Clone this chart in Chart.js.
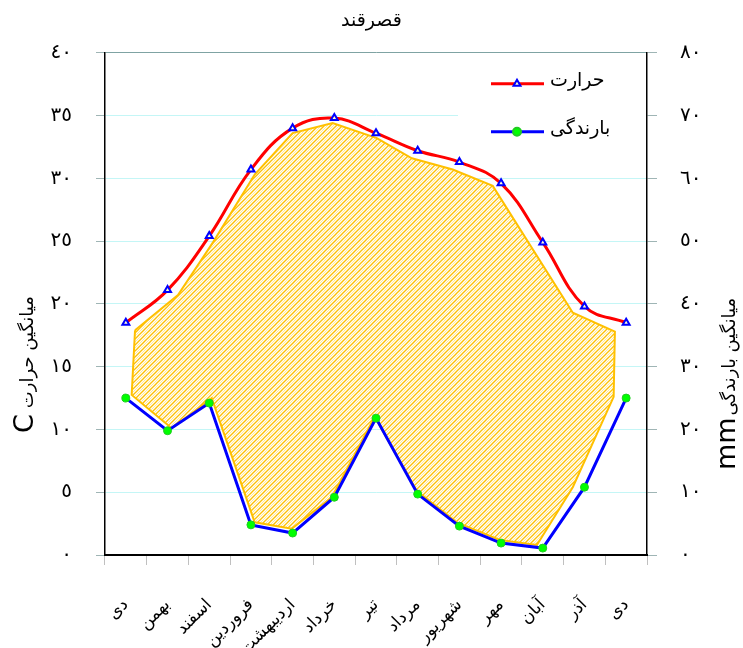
<!DOCTYPE html>
<html>
<head>
<meta charset="utf-8">
<script src="https://cdn.jsdelivr.net/npm/chart.js@4.4.1/dist/chart.umd.min.js"></script>
<style>
  html, body { margin: 0; padding: 0; background: #fff; }
  #wrap { width: 743px; height: 648px; }
</style>
</head>
<body>
<div id="wrap"><canvas id="chart" width="743" height="648"></canvas></div>
<script>
var months = ["دی", "بهمن", "اسفند", "فروردین", "اردیبهشت", "خرداد", "تیر", "مرداد", "شهریور", "مهر", "آبان", "آذر", "دی"];
var temperature = [18.5, 21.1, 25.4, 30.7, 34.0, 34.8, 33.6, 32.2, 31.3, 29.6, 24.9, 19.8, 18.5];
var rainfall = [25.0, 19.8, 24.2, 4.8, 3.5, 9.2, 21.8, 9.7, 4.6, 1.9, 1.1, 10.8, 25.0];

// hatched band, in month-index / degree units
var bandTopX = [0.22, 1.25, 2.09, 3.09, 4.00, 4.96, 6.02, 6.86, 7.84, 8.80, 10.72, 11.73];
var bandTopY = [17.9, 20.7, 24.9, 30.3, 33.6, 34.4, 33.2, 31.6, 30.7, 29.4, 19.3, 17.8];
var bandBotX = [0.14, 1.10, 2.06, 3.09, 3.98, 4.94, 5.97, 6.98, 7.96, 8.97, 9.86, 10.72, 11.70];
var bandBotY = [12.75, 10.1, 12.5, 2.6, 2.1, 4.6, 11.0, 5.1, 2.55, 1.2, 0.8, 5.4, 12.6];

var faDigits = ["٠", "١", "٢", "٣", "٤", "٥", "٦", "٧", "٨", "٩"];
var leftTitle = "میانگین حرارت";
var rightTitle = "میانگین بارندگی";

function toFa(v) {
    return String(v).split("").map(function (d) { return faDigits[+d] || d; }).join("");
}

var band = [];
bandTopX.forEach(function (x, i) { band.push({ x: x, y: bandTopY[i] }); });
for (var i = bandBotX.length - 1; i >= 0; i--) band.push({ x: bandBotX[i], y: bandBotY[i] });
band.push(band[0]);

Chart.defaults.font.family = "'DejaVu Sans', sans-serif";
Chart.defaults.color = "#000";

var pattern = null;
function getPattern(ctx) {
    if (pattern) return pattern;
    var c = document.createElement("canvas");
    c.width = 6; c.height = 6;
    var g = c.getContext("2d");
    g.fillStyle = "#fffef8";
    g.fillRect(0, 0, 6, 6);
    g.strokeStyle = "#ffe7a0";
    g.lineWidth = 1;
    g.beginPath();
    g.moveTo(-1, 4); g.lineTo(4, -1);
    g.moveTo(2, 7); g.lineTo(7, 2);
    g.stroke();
    g.strokeStyle = "#ffc000";
    g.lineWidth = 1.3;
    g.beginPath();
    g.moveTo(-1, 7); g.lineTo(7, -1);
    g.moveTo(-1, 1); g.lineTo(1, -1);
    g.moveTo(5, 7); g.lineTo(7, 5);
    g.stroke();
    pattern = ctx.createPattern(c, "repeat");
    return pattern;
}

var extras = {
    id: "extras",
    beforeDatasetsDraw: function (chart) {
        var ctx = chart.ctx, a = chart.chartArea;
        ctx.save();
        // legend background
        ctx.fillStyle = "#fff";
        ctx.fillRect(a.right - 189, a.top + 2, 188, 104);
        // hatched band
        var pts = chart.getDatasetMeta(2).data;
        ctx.beginPath();
        pts.forEach(function (p, i) {
            if (i === 0) ctx.moveTo(p.x, p.y); else ctx.lineTo(p.x, p.y);
        });
        ctx.closePath();
        ctx.fillStyle = getPattern(ctx);
        ctx.fill();
        ctx.restore();
    },
    afterDraw: function (chart) {
        var ctx = chart.ctx, a = chart.chartArea;
        var ds = chart.data.datasets;
        ctx.save();
        var items = [
            { y: a.top + 31, line: "#ff0000", style: "triangle", fill: "#ffffcc", stroke: "#0000ff", text: ds[0].label },
            { y: a.top + 79, line: "#0000ff", style: "circle", fill: "#00ff00", stroke: "#22cc22", text: ds[1].label }
        ];
        var x0 = a.right - 156;
        items.forEach(function (it) {
            ctx.strokeStyle = it.line;
            ctx.lineWidth = 3;
            ctx.beginPath();
            ctx.moveTo(x0, it.y);
            ctx.lineTo(x0 + 53, it.y);
            ctx.stroke();
            ctx.fillStyle = it.fill;
            ctx.strokeStyle = it.stroke;
            ctx.lineWidth = 2;
            Chart.helpers.drawPoint(ctx, { pointStyle: it.style, radius: 4, borderWidth: 2, rotation: 0 }, x0 + 26, it.y);
            ctx.fillStyle = "#000";
            ctx.font = "19px 'DejaVu Sans'";
            ctx.textAlign = "left";
            ctx.textBaseline = "middle";
            ctx.fillText(it.text, x0 + 59, it.y - 3);
        });

        // axis titles, both read bottom to top
        ctx.fillStyle = "#000";
        ctx.textAlign = "left";
        ctx.textBaseline = "alphabetic";

        ctx.save();
        ctx.translate(33, 433);
        ctx.rotate(-Math.PI / 2);
        ctx.font = "27px 'DejaVu Sans'";
        ctx.fillText("C", 0, 0);
        var w = ctx.measureText("C").width;
        ctx.font = "18px 'DejaVu Sans'";
        ctx.fillText(leftTitle, w + 6, 0);
        ctx.restore();

        ctx.save();
        ctx.translate(735, 470);
        ctx.rotate(-Math.PI / 2);
        ctx.font = "27px 'DejaVu Sans'";
        ctx.fillText("mm", 0, 0);
        w = ctx.measureText("mm").width;
        ctx.font = "18px 'DejaVu Sans'";
        ctx.fillText(rightTitle, w + 2, 0);
        ctx.restore();

        ctx.restore();
    }
};

new Chart(document.getElementById("chart"), {
    type: "line",
    data: {
        labels: months,
        datasets: [
            {
                label: "حرارت",
                data: temperature,
                xAxisID: "x",
                yAxisID: "y",
                borderColor: "#ff0000",
                borderWidth: 3,
                tension: 0.4,
                pointStyle: "triangle",
                pointRadius: 4,
                pointBorderWidth: 2,
                pointBorderColor: "#0000ff",
                pointBackgroundColor: "#ffffcc",
                order: 1
            },
            {
                label: "بارندگی",
                data: rainfall,
                xAxisID: "x",
                yAxisID: "y2",
                borderColor: "#0000ff",
                borderWidth: 3,
                tension: 0,
                pointStyle: "circle",
                pointRadius: 4,
                pointBorderWidth: 1,
                pointBorderColor: "#22cc22",
                pointBackgroundColor: "#00ff00",
                order: 2
            },
            {
                label: "band",
                data: band,
                xAxisID: "xf",
                yAxisID: "y",
                borderColor: "#ffc000",
                borderWidth: 2,
                pointRadius: 0,
                tension: 0,
                fill: false,
                order: 3
            }
        ]
    },
    options: {
        responsive: false,
        animation: false,
        events: [],
        layout: { padding: 0 },
        plugins: {
            legend: { display: false },
            tooltip: { enabled: false },
            title: {
                display: true,
                text: "قصرقند",
                font: { size: 19, weight: "normal" },
                color: "#000",
                padding: { top: 10, bottom: 20 }
            }
        },
        scales: {
            x: {
                type: "category",
                offset: true,
                grid: { offset: true, drawOnChartArea: false, tickLength: 10, color: "#c0c0c0" },
                border: { color: "#000", width: 2 },
                ticks: { autoSkip: false, minRotation: 45, maxRotation: 45, padding: 30, font: { size: 17 }, color: "#000" },
                afterFit: function (s) { s.height = 93; }
            },
            xf: { type: "linear", display: false, min: -0.5, max: 12.5 },
            y: {
                position: "left",
                min: 0,
                max: 40,
                ticks: { stepSize: 5, padding: 24, font: { size: 20 }, color: "#000", callback: toFa },
                grid: {
                    tickLength: 9,
                    tickColor: "#9fb5b5",
                    color: function (c) { return c.tick && c.tick.value === 40 ? "#7fa3a3" : "#c4f6f6"; }
                },
                border: { color: "#000", width: 1.5 },
                afterFit: function (s) { s.width = 105; }
            },
            y2: {
                position: "right",
                min: 0,
                max: 80,
                ticks: { stepSize: 10, padding: 23, font: { size: 20 }, color: "#000", callback: toFa },
                grid: { drawOnChartArea: false, tickLength: 10, color: "#9fb5b5" },
                border: { color: "#000", width: 1.5 },
                afterFit: function (s) { s.width = 96; }
            }
        }
    },
    plugins: [extras]
});
</script>
</body>
</html>
